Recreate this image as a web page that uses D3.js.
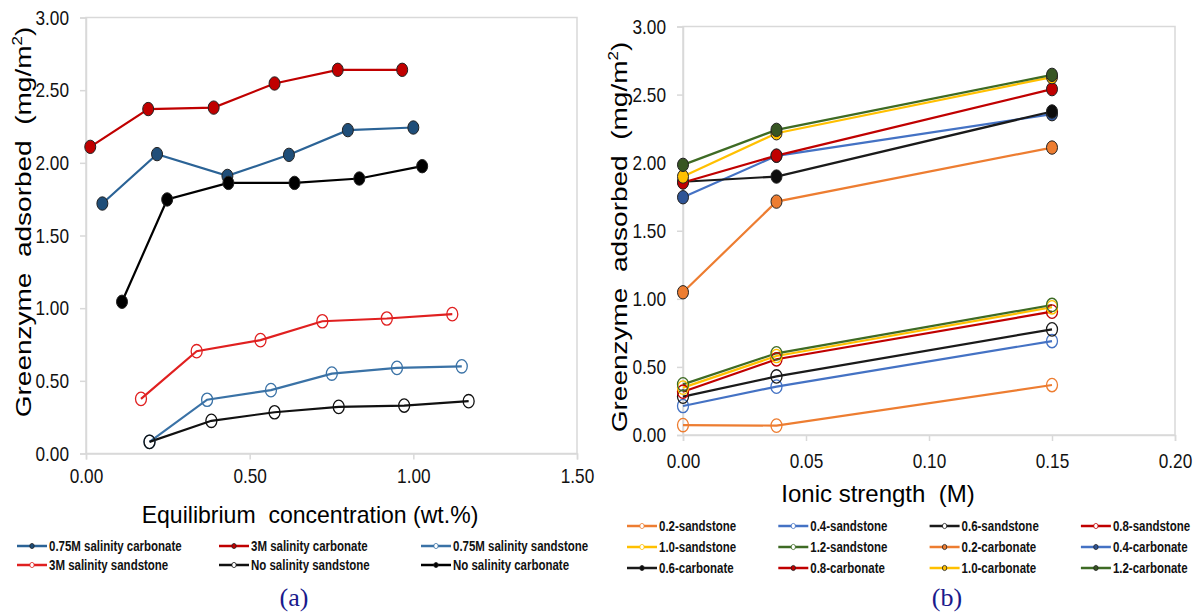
<!DOCTYPE html>
<html>
<head>
<meta charset="utf-8">
<script src="https://cdn.jsdelivr.net/npm/d3@7"></script>
<style>
  body { margin: 0; background: #fff; }
  text { font-family: "Liberation Sans", Arial, sans-serif; }
  .cap { font-family: "Liberation Serif", "Times New Roman", serif; }
</style>
</head>
<body>
<svg id="fig" width="1195" height="613"></svg>
<script>
// ---- chart (a) data : equilibrium concentration (wt.%) vs adsorbed (mg/m2)
var aNames = ["0.75M salinity carbonate", "3M salinity carbonate", "0.75M salinity sandstone",
              "3M salinity sandstone", "No salinity sandstone", "No salinity carbonate"];
var aX_075carb = [0.05, 0.217, 0.432, 0.62, 0.80, 1.00];
var aY_075carb = [1.72, 2.06, 1.91, 2.055, 2.225, 2.243];
var aX_3carb = [0.013, 0.19, 0.39, 0.576, 0.769, 0.966];
var aY_3carb = [2.11, 2.37, 2.38, 2.546, 2.64, 2.64];
var aX_075sand = [0.194, 0.37, 0.565, 0.751, 0.95, 1.148];
var aY_075sand = [0.08, 0.37, 0.436, 0.55, 0.589, 0.60];
var aX_3sand = [0.168, 0.338, 0.533, 0.722, 0.919, 1.119];
var aY_3sand = [0.376, 0.704, 0.78, 0.91, 0.929, 0.959];
var aX_nosand = [0.194, 0.383, 0.576, 0.772, 0.972, 1.169];
var aY_nosand = [0.08, 0.225, 0.284, 0.321, 0.33, 0.36];
var aX_nocarb = [0.11, 0.248, 0.435, 0.637, 0.835, 1.027];
var aY_nocarb = [1.044, 1.748, 1.862, 1.862, 1.892, 1.977];
var aXTicks = [0, 0.5, 1.0, 1.5];
var yTicks = [0, 0.5, 1.0, 1.5, 2.0, 2.5, 3.0];

// ---- chart (b) data : ionic strength (M) vs adsorbed (mg/m2)
var bX = [0, 0.038, 0.15];
var bNames = ["0.2-sandstone", "0.4-sandstone", "0.6-sandstone", "0.8-sandstone",
              "1.0-sandstone", "1.2-sandstone", "0.2-carbonate", "0.4-carbonate",
              "0.6-carbonate", "0.8-carbonate", "1.0-carbonate", "1.2-carbonate"];
var bY_02sand = [0.073, 0.069, 0.367];
var bY_04sand = [0.213, 0.355, 0.69];
var bY_06sand = [0.282, 0.43, 0.776];
var bY_08sand = [0.318, 0.556, 0.906];
var bY_10sand = [0.348, 0.58, 0.938];
var bY_12sand = [0.372, 0.60, 0.955];
var bY_02carb = [1.048, 1.714, 2.111];
var bY_04carb = [1.746, 2.05, 2.356];
var bY_06carb = [1.86, 1.898, 2.376];
var bY_08carb = [1.854, 2.052, 2.54];
var bY_10carb = [1.898, 2.216, 2.628];
var bY_12carb = [1.984, 2.241, 2.645];
var bXTicks = [0, 0.05, 0.10, 0.15, 0.20];

// the original figure is squeezed horizontally, so texts get narrowed too
var SQ = 0.82;

var svg = d3.select("#fig");

function zip(xs, ys) {
    return xs.map(function(x, i) { return {x: x, y: ys[i]}; });
}

function squeeze(sel, k) {
    sel.each(function() {
        var t = d3.select(this);
        var x = +t.attr("x") || 0;
        t.attr("x", 0).attr("transform", "translate(" + x + ",0) scale(" + k + ",1)");
    });
}

function drawPanel(opt) {
    var g = svg.append("g");
    var x = d3.scaleLinear().domain(opt.xDomain).range([opt.left, opt.right]);
    var y = d3.scaleLinear().domain([0, 3]).range([opt.bottom, opt.top]);

    // plot border
    g.append("rect")
        .attr("x", opt.left).attr("y", opt.top)
        .attr("width", opt.right - opt.left).attr("height", opt.bottom - opt.top)
        .attr("fill", "none").attr("stroke", "#d9d9d9").attr("stroke-width", 1.5);

    var yAxis = g.append("g")
        .attr("transform", "translate(" + opt.left + ",0)")
        .call(d3.axisLeft(y).tickValues(yTicks).tickFormat(d3.format(".2f")).tickSize(6).tickPadding(11));
    var xAxis = g.append("g")
        .attr("transform", "translate(0," + opt.bottom + ")")
        .call(d3.axisBottom(x).tickValues(opt.xTicks).tickFormat(d3.format(".2f")).tickSize(6).tickPadding(opt.xPad));
    [xAxis, yAxis].forEach(function(a) {
        a.select(".domain").attr("stroke", "#d9d9d9").attr("stroke-width", 1.5);
        a.selectAll(".tick line").attr("stroke", "#d9d9d9").attr("stroke-width", 1.5);
        a.selectAll(".tick text").attr("fill", "#111").style("font-size", "21px");
        squeeze(a.selectAll(".tick text"), SQ);
    });

    var line = d3.line().x(function(d) { return x(d.x); }).y(function(d) { return y(d.y); });

    opt.series.forEach(function(s) {
        g.append("path")
            .datum(s.pts)
            .attr("fill", "none")
            .attr("stroke", s.color)
            .attr("stroke-width", 2.2)
            .attr("d", line);
    });
    opt.series.forEach(function(s) {
        g.selectAll(null)
            .data(s.pts)
            .enter()
            .append("ellipse")
            .attr("cx", function(d) { return x(d.x); })
            .attr("cy", function(d) { return y(d.y); })
            .attr("rx", 6.7 * SQ)
            .attr("ry", 6.7)
            .attr("fill", s.filled ? s.fill : "none")
            .attr("stroke", s.filled ? "#222" : s.color)
            .attr("stroke-width", s.filled ? 1 : 1.3);
    });

    // y title
    var yt = g.append("text")
        .attr("transform", "translate(" + opt.yTitleX + "," + opt.yTitleY + ") scale(" + SQ + ",1) rotate(-90)")
        .attr("text-anchor", "middle")
        .style("font-size", "28px")
        .style("white-space", "pre");
    yt.append("tspan").text("Greenzyme  adsorbed  (mg/m");
    yt.append("tspan").attr("dy", -11).style("font-size", "17px").text("2");
    yt.append("tspan").attr("dy", 11).text(")");

    // x title
    g.append("text")
        .attr("transform", "translate(" + opt.xTitleX + "," + opt.xTitleY + ") scale(" + opt.xTitleK + ",1)")
        .attr("text-anchor", "middle")
        .style("font-size", "24px")
        .style("white-space", "pre")
        .text(opt.xTitle);

    // legend
    opt.series.forEach(function(s, i) {
        var col = i % opt.cols, row = Math.floor(i / opt.cols);
        var lx = opt.legX + col * opt.legDX, ly = opt.legY + row * opt.legDY;
        g.append("line")
            .attr("x1", lx).attr("x2", lx + 30).attr("y1", ly).attr("y2", ly)
            .attr("stroke", s.color).attr("stroke-width", 2.5);
        g.append("ellipse")
            .attr("cx", lx + 15).attr("cy", ly).attr("rx", 2.2).attr("ry", 2.6)
            .attr("fill", s.filled ? s.fill : "#fff")
            .attr("stroke", s.filled ? "#222" : s.color).attr("stroke-width", 0.8);
        var t = g.append("text")
            .attr("x", lx + 32).attr("y", ly + 5)
            .style("font-size", "14px").style("font-weight", "bold")
            .attr("fill", "#111")
            .text(s.name);
        t.attr("transform", "translate(" + (lx + 32) + ",0) scale(" + SQ + ",1)").attr("x", 0);
    });

    svg.append("text")
        .attr("class", "cap")
        .attr("x", opt.capX).attr("y", 606)
        .attr("text-anchor", "middle")
        .attr("fill", "#1a1a8c")
        .style("font-size", "26px")
        .text(opt.cap);
}

var blueA = "#2b6396", redA = "#c00000";
drawPanel({
    left: 86, right: 577, top: 17.5, bottom: 453.5,
    xDomain: [0, 1.5], xTicks: aXTicks, xPad: 9,
    yTitleX: 31, yTitleY: 222,
    xTitle: "Equilibrium  concentration (wt.%)", xTitleX: 310, xTitleY: 523, xTitleK: 0.96,
    cols: 3, legX: 17, legY: 546, legDX: 202, legDY: 19,
    cap: "(a)", capX: 294,
    series: [
        {name: aNames[0], color: blueA, fill: "#1f4e79", filled: true, pts: zip(aX_075carb, aY_075carb)},
        {name: aNames[1], color: redA, fill: "#c00000", filled: true, pts: zip(aX_3carb, aY_3carb)},
        {name: aNames[2], color: "#3a72a6", fill: "#3a72a6", filled: false, pts: zip(aX_075sand, aY_075sand)},
        {name: aNames[3], color: "#e02020", fill: "#e02020", filled: false, pts: zip(aX_3sand, aY_3sand)},
        {name: aNames[4], color: "#111", fill: "#111", filled: false, pts: zip(aX_nosand, aY_nosand)},
        {name: aNames[5], color: "#000", fill: "#000", filled: true, pts: zip(aX_nocarb, aY_nocarb)}
    ]
});

var bColors = ["#ed7d31", "#4472c4", "#1a1a1a", "#c00000", "#ffc000", "#3e6b24"];
var bFills = ["#ed7d31", "#2f5597", "#0d0d0d", "#c00000", "#ffc000", "#375623"];
var bYs = [bY_02sand, bY_04sand, bY_06sand, bY_08sand, bY_10sand, bY_12sand,
           bY_02carb, bY_04carb, bY_06carb, bY_08carb, bY_10carb, bY_12carb];
drawPanel({
    left: 683, right: 1175, top: 26.5, bottom: 435,
    xDomain: [0, 0.2], xTicks: bXTicks, xPad: 12,
    yTitleX: 627, yTitleY: 237,
    xTitle: "Ionic strength  (M)", xTitleX: 878, xTitleY: 502, xTitleK: 1,
    cols: 4, legX: 627, legY: 526, legDX: 151.3, legDY: 21,
    cap: "(b)", capX: 947,
    series: bYs.map(function(ys, i) {
        return {name: bNames[i], color: bColors[i % 6], fill: bFills[i % 6], filled: i >= 6, pts: zip(bX, ys)};
    })
});
</script>
</body>
</html>
